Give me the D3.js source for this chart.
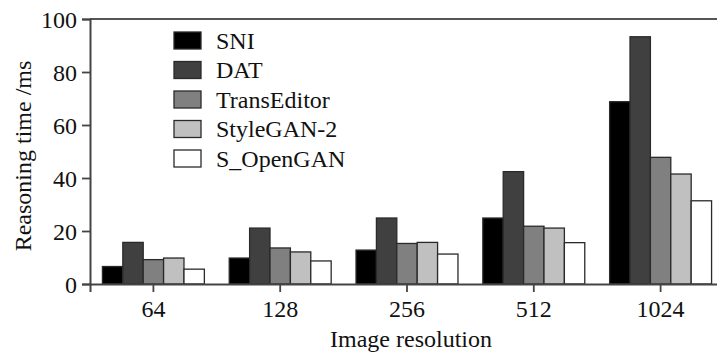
<!DOCTYPE html>
<html>
<head>
<meta charset="utf-8">
<script src="https://cdn.jsdelivr.net/npm/d3@7"></script>
<style>
  body { margin: 0; background: #fff; }
  svg { display: block; }
  svg text { font-family: "Liberation Serif", "Times New Roman", serif; fill: #111; }
</style>
</head>
<body>
<script>
// chart data
var resolutions = ["64", "128", "256", "512", "1024"];
var methods = ["SNI", "DAT", "TransEditor", "StyleGAN-2", "S_OpenGAN"];
var sni = [6.6, 9.8, 12.8, 24.9, 68.8];
var dat = [15.7, 21.1, 24.9, 42.4, 93.3];
var transEditor = [9.2, 13.6, 15.3, 21.8, 47.8];
var styleGan2 = [9.8, 12.1, 15.7, 21.1, 41.5];
var sOpenGan = [5.6, 8.7, 11.3, 15.6, 31.4];
var yTicks = [0, 20, 40, 60, 80, 100];

var seriesValues = [sni, dat, transEditor, styleGan2, sOpenGan];
var fills = ["#000000", "#404040", "#808080", "#c0c0c0", "#ffffff"];

var svgWidth = 717;
var svgHeight = 354;
var margin = {top: 19, right: -7, bottom: 70, left: 90};
var width = svgWidth - margin.left - margin.right;
var height = svgHeight - margin.top - margin.bottom;

var svg = d3.select("body").append("svg")
  .attr("width", svgWidth)
  .attr("height", svgHeight);

var chartGroup = svg.append("g")
  .attr("transform", `translate(${margin.left}, ${margin.top})`);

// scales
var xScale = d3.scaleBand().domain(resolutions).range([0, width]).paddingInner(0.196).paddingOuter(0.098);
var xInner = d3.scaleBand().domain(methods).range([0, xScale.bandwidth()]);
var yScale = d3.scaleLinear().domain([0, 100]).range([height, 0]);

// top frame line
chartGroup.append("line")
  .attr("x1", 0).attr("x2", width)
  .attr("y1", 0).attr("y2", 0)
  .attr("stroke", "#555").attr("stroke-width", 2);

// bars
var rows = [];
resolutions.forEach(function(r, i) {
  methods.forEach(function(m, j) {
    rows.push({res: r, method: m, value: seriesValues[j][i], fill: fills[j]});
  });
});

chartGroup.selectAll(".bar")
  .data(rows)
  .enter().append("rect")
  .attr("class", "bar")
  .attr("x", d => xScale(d.res) + xInner(d.method))
  .attr("y", d => yScale(d.value))
  .attr("width", xInner.bandwidth())
  .attr("height", d => height - yScale(d.value))
  .attr("fill", d => d.fill)
  .attr("stroke", "#2a2a2a")
  .attr("stroke-width", 1.3);

// axes
var bottomAxis = d3.axisBottom(xScale).tickSizeOuter(0).tickSize(8).tickPadding(8);
var leftAxis = d3.axisLeft(yScale).tickValues(yTicks).tickSizeOuter(0).tickSize(8).tickPadding(5);

var xAxisG = chartGroup.append("g")
  .attr("transform", `translate(0, ${height})`)
  .call(bottomAxis);

var yAxisG = chartGroup.append("g")
  .call(leftAxis);

[xAxisG, yAxisG].forEach(function(g) {
  g.attr("font-family", null).attr("font-size", null);
  g.select(".domain").attr("stroke", "#444").attr("stroke-width", 2);
  g.selectAll(".tick line").attr("stroke", "#444").attr("stroke-width", 1.8);
  g.selectAll(".tick text")
    .attr("fill", "#111")
    .style("font-size", "24px");
});
yAxisG.selectAll(".tick text").attr("dy", "0.34em");

// axis titles
svg.append("text")
  .attr("x", 411)
  .attr("y", 347)
  .attr("text-anchor", "middle")
  .style("font-size", "24px")
  .text("Image resolution");

svg.append("text")
  .attr("transform", "translate(31, 156) rotate(-90)")
  .attr("text-anchor", "middle")
  .style("font-size", "24px")
  .text("Reasoning time /ms");

// legend
var legend = svg.append("g").attr("transform", "translate(174, 32)");
var legendRows = legend.selectAll(".legend-row")
  .data(methods)
  .enter().append("g")
  .attr("class", "legend-row")
  .attr("transform", (d, i) => `translate(0, ${i * 29.5})`);

legendRows.append("rect")
  .attr("width", 27)
  .attr("height", 17)
  .attr("fill", (d, i) => fills[i])
  .attr("stroke", "#2a2a2a")
  .attr("stroke-width", 1.3);

legendRows.append("text")
  .attr("x", 42)
  .attr("y", 8.5)
  .attr("dy", "0.34em")
  .style("font-size", "24px")
  .text(d => d);
</script>
</body>
</html>
